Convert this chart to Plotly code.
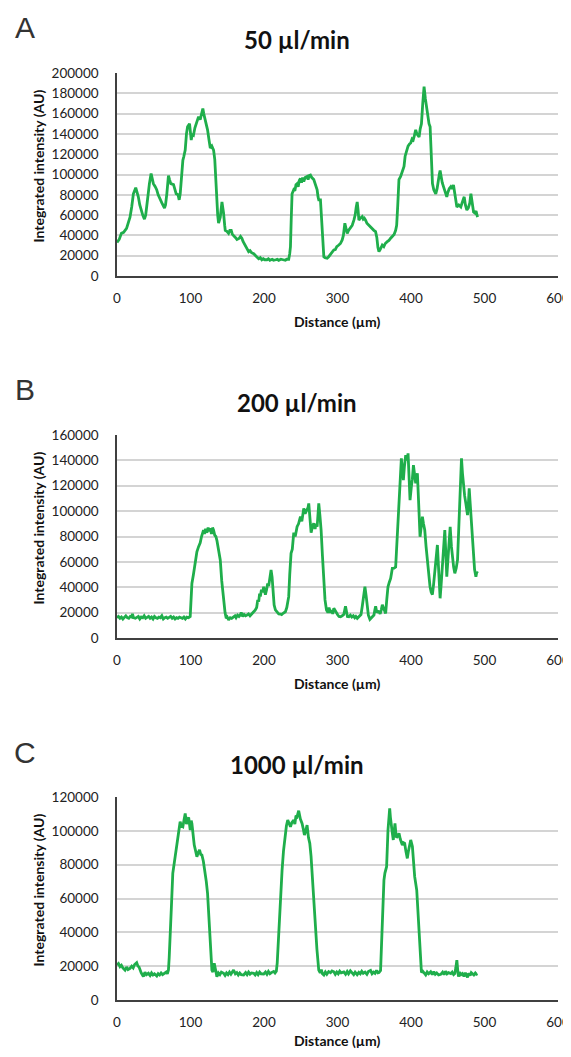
import plotly.graph_objects as go

# ---------------- data ----------------
titles = ["50 µl/min", "200 µl/min", "1000 µl/min"]
panel_letters = ["A", "B", "C"]
y_max = [200000, 160000, 120000]
x_ticks = [0, 100, 200, 300, 400, 500, 600]

profile_50 = [
    (0, 33000), (3, 36000), (6, 42000), (9, 43000), (13, 47000), (15, 52000), (17.7, 58000), (20, 68000),
    (22.3, 81000), (25.5, 87000), (27, 84000), (29, 78000), (31, 70000), (33.6, 63000), (35, 60000),
    (37.3, 56000), (39, 60000), (40.5, 69000), (42, 80000), (44.1, 91000), (46.4, 101000), (48, 95000),
    (49.5, 91000), (52, 88000), (54, 85000), (56, 80000), (58.7, 75000), (61, 72000), (64.6, 67000),
    (66, 70000), (67.8, 81000), (70, 99000), (71.5, 95000), (73.2, 91000), (76.9, 90000), (78.5, 86000),
    (80.5, 81000), (83, 80000), (84.6, 75000), (86, 81000), (87.5, 100000), (89.6, 114000), (91, 118000),
    (92.8, 124000), (94.5, 140000), (96, 147000), (98.7, 150000), (100, 142000), (101, 134000),
    (102.5, 140000), (104.1, 139000), (106, 146000), (107.8, 150000), (109.5, 155000), (111, 157000),
    (113.2, 154000), (115, 160000), (116.8, 165000), (118, 160000), (120, 154000), (121.5, 150000),
    (123.2, 144000), (125, 135000), (126.9, 126000), (129, 128000), (131.4, 124000), (133, 115000),
    (133.7, 104000), (135, 90000), (135.9, 75000), (137, 60000), (138.2, 52000), (139.5, 55000),
    (140.5, 58000), (142.8, 73000), (144, 68000), (145, 62000), (146.5, 50000), (147.3, 45000),
    (149.5, 44000), (151.8, 42000), (153.5, 45000), (155.4, 45000), (157, 41000), (158.6, 40000),
    (161, 38000), (163.2, 36000), (166, 37000), (168, 39000), (170, 37000), (171.5, 34000),
    (173.2, 32000), (175, 30000), (177, 27000), (179.1, 24000), (181, 25000), (183, 23000),
    (186, 22000), (188, 20000), (190, 19000), (192.8, 17000), (195, 18000), (197, 16000), (199, 17000),
    (201, 16000), (204, 16000), (206, 17000), (208, 15500), (211, 16500), (213, 15500), (216, 16000),
    (218, 16500), (220, 15500), (223, 16500), (226, 16000), (229, 15500), (231, 16500), (233.6, 16500),
    (235, 22000), (236, 29000), (237, 55000), (238.2, 81000), (240.5, 85000), (242, 84000),
    (243.5, 90000), (245, 91000), (246.5, 88000), (248, 94000), (249.6, 96000), (251, 92000),
    (252.5, 97000), (254.1, 93000), (256, 97000), (258.6, 98000), (260, 95000), (261.5, 99000),
    (263.2, 99500), (265, 97000), (267.7, 95000), (269.5, 90000), (271, 88000), (272.3, 85000),
    (273.5, 78000), (274.5, 75000), (276.8, 75000), (278, 60000), (279.1, 49000), (280.3, 30000),
    (281.4, 19000), (283, 18000), (285.9, 17500), (288, 19000), (290.4, 21000), (292, 22000),
    (295, 25600), (297, 26000), (299, 29000), (301.8, 30500), (304, 32000), (306.4, 35500),
    (308, 40000), (310, 52000), (311.5, 47000), (313.2, 42000), (315, 45000), (317.7, 48500),
    (320, 50000), (322.3, 55000), (324, 60000), (325.5, 68000), (326.8, 73000), (328, 65000),
    (329.1, 55000), (331, 57000), (333.6, 58500), (335, 56000), (336.5, 57000), (338.2, 55000),
    (340, 52000), (342.7, 50000), (345, 48000), (347.3, 47000), (349.5, 45000), (351.8, 43700),
    (353.5, 38000), (355, 28000), (356.4, 24000), (358, 26000), (360.9, 30500), (363, 29000),
    (365, 32000), (367.7, 33800), (370, 35000), (372, 37000), (374.5, 38700), (377, 41000),
    (379.1, 45000), (380.5, 50000), (382, 70000), (383.6, 95000), (385.9, 98000), (388, 103000),
    (390.5, 108000), (392, 118000), (394.1, 124000), (396, 128000), (398, 130000), (399.6, 131000),
    (401.5, 135000), (403, 134000), (404.5, 138000), (406.4, 144000), (408, 140000), (411, 137000),
    (412.5, 145000), (414.2, 150000), (416, 170000), (417.8, 186500), (419.5, 175000),
    (421.5, 163500), (423, 155000), (424.5, 150000), (426, 147000), (427.5, 120000), (429.2, 91000),
    (431, 85000), (433.7, 81000), (435.5, 86000), (437, 95000), (438.5, 100000), (439.6, 104000),
    (441, 97000), (442.5, 92000), (444.2, 88000), (446, 84000), (448.7, 78000), (450, 82000),
    (452, 86000), (454.2, 88000), (456, 86000), (457.8, 89600), (459, 83000), (460.5, 75000),
    (462.4, 68000), (465, 70000), (467.8, 68000), (469.5, 72000), (471, 76000), (472.4, 78000),
    (474, 70000), (476, 65000), (478, 67000), (480, 72000), (481.5, 81000), (483, 74000),
    (485.1, 63000), (487, 62000), (488.5, 64000), (490.5, 58000),
]

profile_200 = [
    (0, 16000), (2, 17000), (4, 15500), (6, 16500), (8, 15000), (10, 16500), (12, 17500), (14, 16000),
    (16, 15500), (18, 17000), (20, 16500), (21, 19000), (22.5, 16000), (25, 15500), (27, 16500),
    (29, 17000), (31, 15000), (33, 16500), (35, 16000), (37, 17500), (39, 15500), (41, 16000),
    (43, 17000), (45, 15500), (47, 16500), (49, 15000), (51, 17000), (53, 16000), (55, 15500),
    (57, 16500), (59, 16000), (61, 17500), (63, 15000), (65, 16000), (67, 16500), (69, 15500),
    (71, 16000), (73, 17000), (75, 15500), (77, 16500), (79, 15000), (81, 16000), (83, 15500),
    (85, 16500), (87, 16000), (89, 15500), (91, 16500), (93, 15000), (95, 16500), (97.3, 16000),
    (99.6, 17000), (100.8, 30000), (101.9, 43000), (104, 50000), (106.4, 59000), (108.7, 68000),
    (111, 72000), (113.2, 75000), (115, 80000), (117.7, 85000), (119, 82000), (120.5, 86000),
    (122.3, 83000), (124, 87000), (125.5, 84000), (126.8, 86500), (128.5, 82000), (130, 87000),
    (131.4, 85000), (133, 81000), (134.5, 80000), (135.9, 77000), (138, 70000), (140.5, 61500),
    (142.5, 45000), (145, 30000), (147, 20000), (148.6, 15500), (150, 16500), (151.8, 14200),
    (154, 16000), (156, 15500), (158.6, 16800), (160.5, 17500), (162, 16000), (164, 18000),
    (166, 17000), (167.7, 18100), (169, 20000), (171, 17000), (173, 18500), (175, 17500),
    (176.8, 18000), (179, 19000), (181, 17500), (183, 18500), (186, 20700), (188, 22000),
    (190, 24000), (191.5, 30000), (192.8, 28600), (194, 35000), (195, 32600), (196.5, 38000),
    (198, 36000), (199.6, 40400), (201.9, 34200), (203.5, 38000), (205, 43000), (206.4, 41000),
    (208, 48000), (209.6, 53600), (211, 48000), (212.3, 32600), (213.8, 26000), (215.5, 22100),
    (218, 20000), (220, 19000), (222.3, 18900), (224, 18500), (226, 19500), (229.1, 20700),
    (231, 24000), (232.5, 28000), (233.6, 32600), (235, 50000), (236.8, 66700), (238.5, 70000),
    (240.5, 83000), (242.5, 80000), (245, 87700), (247, 90000), (249.6, 95600), (251.5, 92000),
    (254.1, 102200), (256, 98000), (258.6, 100600), (260, 103000), (260.9, 106100), (262.5, 95000),
    (264.1, 83000), (266, 88000), (267.7, 90400), (269.5, 86000), (271, 90000), (272.3, 87700),
    (273.5, 98000), (274.5, 106100), (276, 97000), (277.7, 85100), (279.5, 65000), (281.4, 45700),
    (283, 30000), (285, 22100), (287, 20000), (288.5, 24000), (290.4, 20000), (292, 22000),
    (293.5, 19000), (295, 23400), (297.3, 20700), (299, 19000), (300.4, 18100), (302, 17000),
    (304.1, 16800), (306.4, 17500), (308.5, 18500), (310.9, 25000), (312.5, 18000), (313.5, 17000),
    (315.5, 16800), (317.5, 18000), (319.5, 16500), (321.5, 17500), (323.5, 16000), (325, 17000),
    (326.9, 15500), (328.5, 16500), (330, 17000), (332, 18500), (333.7, 25000), (335.5, 35000),
    (337.3, 40400), (339, 33000), (340.5, 25000), (342, 18000), (344.1, 14700), (346, 16000),
    (348, 17500), (349.6, 18100), (350.8, 22000), (351.9, 25000), (353.5, 20000), (355, 21000),
    (356.4, 20700), (358, 19000), (359.5, 22000), (361, 26200), (363, 23000), (365.5, 19400),
    (367, 30000), (368.7, 40400), (370.5, 44000), (372.3, 47000), (373.5, 51000), (374.6, 54900),
    (377, 55000), (379.1, 56000), (380.2, 68000), (381.4, 79800), (382.5, 90000), (383.7, 100900),
    (385.3, 120000), (386.9, 141600), (388.2, 133000), (389.6, 124500), (391, 135000),
    (392.8, 144200), (394.5, 140000), (396, 145500), (397.5, 125000), (398.7, 108700),
    (400.5, 119300), (401.8, 125000), (403.3, 136300), (405, 130000), (406.4, 121900),
    (407.5, 125000), (408.7, 129800), (410.5, 105000), (412.3, 79800), (414, 88000), (415.5, 95600),
    (417, 90000), (418.7, 85100), (420.5, 72000), (422.3, 61500), (424, 50000), (425.9, 40400),
    (427.5, 36000), (429.1, 34200), (430.7, 42000), (432.3, 53600), (434, 64000), (435.9, 73300),
    (437.5, 55000), (438.5, 40000), (439.6, 31300), (441, 42000), (442.8, 56000), (444.5, 70000),
    (446, 85100), (447.5, 65000), (448.7, 48300), (450.5, 64100), (452, 75000), (453.3, 87700),
    (455, 72000), (456.4, 61500), (458, 56000), (459.6, 51000), (461.5, 55000), (463.3, 61500),
    (464.5, 80000), (465.5, 93000), (467, 115000), (468.7, 141600), (470, 130000), (471.4, 119300),
    (473, 112000), (474.6, 106100), (476.9, 96900), (478, 105000), (479.2, 118000), (480.3, 108000),
    (481.4, 98400), (483, 80000), (485.1, 61500), (486.5, 54000), (488.3, 48300), (489.5, 52000),
    (490.5, 51000),
]

profile_1000 = [
    (0, 20700), (2, 21500), (4.1, 19700), (6, 20500), (8, 19000), (10.9, 17700), (13, 19500),
    (15, 18000), (17.7, 18700), (20, 20000), (22, 19000), (24, 21000), (26.8, 22100), (28.5, 20000),
    (30, 19500), (31.4, 17700), (33, 16000), (35.9, 13800), (38, 16500), (40, 15000), (42.7, 15800),
    (45, 14500), (47, 16000), (49, 14800), (51, 15500), (54.1, 14200), (56, 15600), (58, 14800),
    (60, 16000), (62, 15000), (65.4, 15800), (67, 16500), (68.5, 15500), (70, 17700), (71, 25000),
    (72.3, 35500), (74, 55000), (75.9, 74900), (77.5, 80000), (79.1, 86700), (80.5, 90000),
    (82.3, 95600), (84, 100000), (85.9, 105400), (87.5, 103000), (89.6, 102400), (91, 106000),
    (92.8, 110300), (94.5, 104000), (96, 106400), (97.5, 108000), (99.6, 100500), (101, 106000),
    (101.9, 104400), (103.5, 97000), (105.1, 91600), (107, 88000), (108.7, 84700), (110.5, 87000),
    (112.3, 88700), (114, 86000), (115.5, 85700), (117.5, 82000), (120, 75800), (121.5, 70000),
    (123.2, 63100), (124.5, 52000), (125.9, 41400), (127.5, 28000), (129.1, 17700), (130.5, 16500),
    (132.3, 21700), (134, 18000), (135.9, 13800), (138, 16000), (140, 15000), (142, 16500),
    (145, 15800), (147, 14500), (149, 16000), (151, 15000), (153, 16500), (155, 15200),
    (158.6, 17700), (161, 15500), (163, 16200), (165, 14800), (167, 16000), (169, 15000),
    (172.3, 14800), (175, 16200), (177, 15000), (179, 16500), (181, 15300), (183, 16000),
    (186, 15800), (188, 14800), (190, 16200), (192, 15000), (194, 16500), (196, 15500),
    (199.6, 15400), (202, 16500), (204, 15200), (206, 16800), (208, 15500), (210, 16200),
    (213.2, 16900), (215, 16000), (216.8, 17000), (218, 22000), (219.1, 31500), (221, 50000),
    (222.5, 65000), (224.6, 76800), (226.5, 88000), (229.1, 100500), (230.5, 103000),
    (232.3, 106400), (234, 104000), (236, 102400), (238, 105000), (240.5, 106400), (242, 104000),
    (243.5, 109000), (245, 108400), (247.2, 111900), (249.5, 107000), (251.8, 104400),
    (253.5, 101000), (255, 97500), (256.8, 100000), (258.6, 103400), (260.5, 96000), (262.3, 92600),
    (264, 85000), (265.4, 74900), (267.5, 62000), (270, 47300), (272, 30000), (274.5, 17700),
    (276.5, 16000), (278, 18000), (279.5, 15500), (281.4, 14800), (283.5, 16500), (285.5, 15200),
    (288, 16800), (290.5, 16200), (292.5, 17200), (295, 16700), (297, 15200), (299, 16500),
    (301, 15500), (303, 17000), (305, 16000), (308.6, 16600), (311, 15200), (313.2, 16800),
    (315, 15500), (317.5, 17200), (320, 16000), (322, 15000), (324, 16500), (326.8, 15000),
    (329, 16300), (331, 15500), (333, 17000), (335, 15800), (337.5, 16500), (340, 15200),
    (342, 16800), (345, 17500), (347, 15500), (349, 16500), (351, 15800), (353, 17500), (355, 16000),
    (356.4, 16200), (358.6, 17500), (359.8, 30000), (361, 51200), (363.2, 70900), (364.5, 75000),
    (366.8, 78800), (368.7, 100500), (371, 113300), (372, 108000), (373.2, 102400), (374.5, 99000),
    (375.9, 94600), (377, 100000), (378.2, 104400), (379.5, 98000), (380.5, 95900), (382, 97000),
    (383.7, 98500), (385.5, 95000), (388.2, 91600), (389.8, 93000), (391.4, 92600), (393, 88000),
    (395, 83700), (396.5, 88000), (398, 92000), (399.6, 94600), (401.9, 90700), (403.5, 82000),
    (405, 72900), (407.8, 65000), (409.5, 52000), (411, 41400), (412.5, 25000), (414.2, 16300),
    (416, 17000), (418, 15500), (420, 14800), (422, 16500), (424, 15500), (426.8, 16700),
    (429, 15000), (431, 16800), (433, 15200), (435, 16000), (437.5, 14800), (440.5, 15200),
    (443, 16500), (445, 15000), (447, 17000), (449, 15500), (451, 16200), (454.2, 15600),
    (456, 16500), (458, 15000), (459.6, 15600), (461, 19000), (462.4, 23600), (463.5, 18000),
    (464.6, 13800), (466, 16500), (468, 15000), (470, 15600), (472, 14000), (474, 16000),
    (476.9, 13400), (478.5, 15800), (480.5, 14500), (482, 16200), (483.7, 15600), (485.5, 14800),
    (487.5, 16000), (489, 15200), (490.5, 15500),
]

profiles = [profile_50, profile_200, profile_1000]

# ---------------- layout constants ----------------
# The page body has an 8px default margin, so the figure is drawn 8px right/down;
# height is reduced so the page does not overflow the window.
PAGE_OFF = 8
W, H = 571 - PAGE_OFF, 1057 - 2 * PAGE_OFF
LINE_COLOR = "#1fae4b"
FONT = "Lato"
plot_left, plot_right = 117 - PAGE_OFF, 558 - PAGE_OFF
panels_px = [(73, 276), (435, 638), (797, 1000)]  # top, bottom in screen pixels

def px(v):
    return (v - PAGE_OFF) / W

def py(v):
    return 1 - (v - PAGE_OFF) / H

def label(text, x, y, size, family=FONT, color="#111", angle=0):
    return dict(text=text, x=px(x), y=py(y), xref="paper", yref="paper",
                xanchor="center", yanchor="middle", textangle=angle, showarrow=False,
                font=dict(family=family, size=size, color=color))

fig = go.Figure()
annotations = []
for i, (prof, title, letter, ymax, (top, bot)) in enumerate(
        zip(profiles, titles, panel_letters, y_max, panels_px)):
    n = "" if i == 0 else str(i + 1)
    xs = [p[0] for p in prof]
    ys = [p[1] for p in prof]
    fig.add_trace(go.Scatter(x=xs, y=ys, mode="lines", xaxis="x" + n, yaxis="y" + n,
                             line=dict(color=LINE_COLOR, width=2.8), showlegend=False,
                             hoverinfo="skip"))
    fig.layout["xaxis" + n] = dict(
        domain=[plot_left / W, plot_right / W], anchor="y" + n, range=[0, 600],
        tickvals=x_ticks, showgrid=False, zeroline=False, showline=True, automargin=False,
        linecolor="#404040", linewidth=2, ticks="", ticklabelstandoff=9,
        ticklabeloverflow="allow",
        tickfont=dict(family=FONT, size=13.5, color="#222"))
    fig.layout["yaxis" + n] = dict(
        domain=[py(bot), py(top)], anchor="x" + n, range=[0, ymax], dtick=20000,
        tickformat="d", showgrid=True, gridcolor="#d4d4d4", gridwidth=1.6, automargin=False,
        zeroline=False, showline=True, linecolor="#404040", linewidth=1.5,
        ticks="", ticklabelstandoff=14,
        tickfont=dict(family=FONT, size=13.5, color="#222"))
    off = 362 * i
    annotations += [
        label(letter, 25, 28 + off, 30, family="Liberation Sans", color="#333"),
        label("<b>" + title + "</b>", 297, 40 + off, 24),
        label("<b>Integrated intensity (AU)</b>", 38, (top + bot) / 2 - 8, 14, angle=-90),
        label("<b>Distance (µm)</b>", 337, min(bot + 45, 1040), 14),
    ]

fig.update_layout(template="none", width=W, height=H, margin=dict(l=0, r=0, t=0, b=0),
                  paper_bgcolor="white", plot_bgcolor="white", annotations=annotations)
fig.write_html("out.html")
